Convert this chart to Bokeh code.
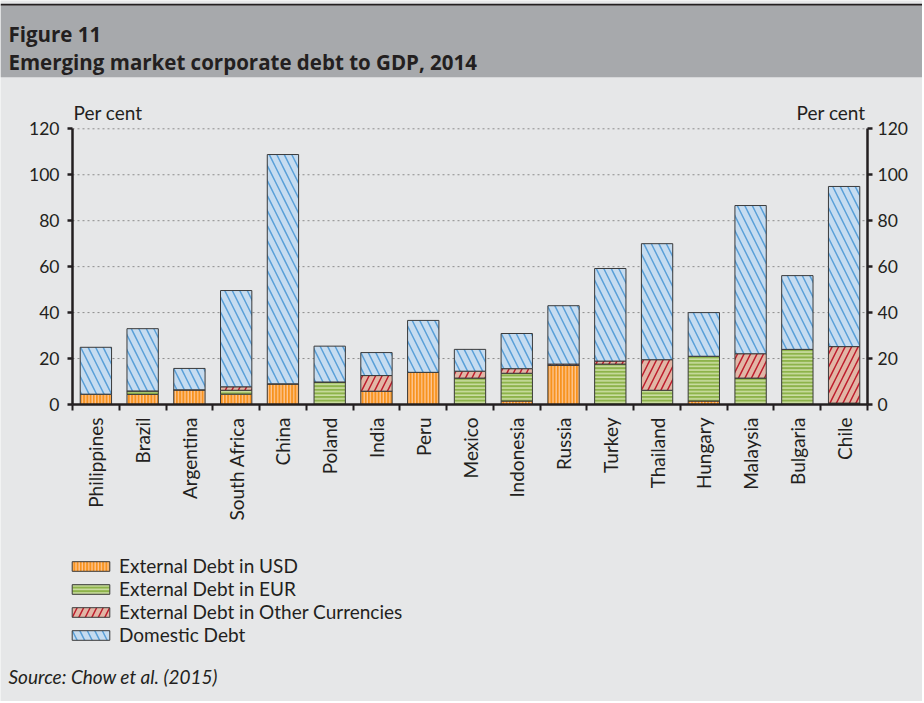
import numpy as np
from bokeh.plotting import figure
from bokeh.models import (ColumnDataSource, Range1d, LinearAxis, FixedTicker,
                          Legend, LegendItem, Label, BoxAnnotation)
from bokeh.embed import file_html
from bokeh.resources import INLINE

countries = ["Philippines", "Brazil", "Argentina", "South Africa", "China", "Poland",
             "India", "Peru", "Mexico", "Indonesia", "Russia", "Turkey", "Thailand",
             "Hungary", "Malaysia", "Bulgaria", "Chile"]
ext_usd = [4.5, 4.4, 6.4, 4.5, 9.0, 0.0, 5.8, 14.0, 0.0, 1.5, 17.0, 0.0, 0.0, 1.5, 0.0, 0.0, 0.0]
ext_eur = [0.0, 1.5, 0.0, 1.7, 0.0, 9.8, 0.0, 0.0, 11.5, 12.1, 0.0, 17.6, 6.2, 19.5, 11.5, 24.0, 0.6]
ext_other = [0.0, 0.0, 0.0, 1.5, 0.0, 0.0, 6.8, 0.0, 3.0, 2.0, 0.6, 1.3, 13.3, 0.0, 10.6, 0.0, 24.6]
domestic = [20.4, 27.1, 9.3, 41.9, 99.8, 15.6, 10.0, 22.6, 9.5, 15.3, 25.4, 40.3, 50.5, 19.0, 64.5, 32.1, 69.7]
y_ticks = [0, 20, 40, 60, 80, 100, 120]
y_max = 120

series_labels = ["External Debt in USD", "External Debt in EUR",
                 "External Debt in Other Currencies", "Domestic Debt"]

# ---- layout (page pixels) ----
W, H = 922, 701
AX_L, AX_R = 72, 867        # left / right axis position
AX_B, AX_T = 404, 128.3     # y=0 / y=120 position

FONT = "Lato"
TFONT = "Open Sans"
FS = "19px"
TXT = "#231f20"
BG = "#e6e7e8"

fills = ["#f7931e", "#8db34a", "#e2b6a6", "#c6dcf0"]
hatches = ["vertical_line", "horizontal_line", "right_diagonal_line", "left_diagonal_line"]
hcolors = ["#fdc898", "#d4e4b0", "#be1e2d", "#5aa0d8"]
hscales = [3.2, 3.6, 13, 15]
hweights = [1.3, 1.4, 1.5, 1.5]

n = len(countries)
ux = n / (AX_R - AX_L)           # data units per pixel (x)
uy = y_max / (AX_B - AX_T)       # data units per pixel (y)
xr = Range1d(-AX_L * ux, n + (W - AX_R) * ux)
yr = Range1d(-(H - AX_B) * uy, y_max + AX_T * uy)

p = figure(frame_width=W, frame_height=H, x_range=xr, y_range=yr,
           output_backend="svg", toolbar_location=None,
           min_border_left=0, min_border_right=0, min_border_top=0, min_border_bottom=0)
p.title.visible = False
p.extra_x_ranges = {"px": Range1d(0, W)}
p.extra_y_ranges = {"py": Range1d(H, 0)}
p.background_fill_color = BG
p.border_fill_color = BG
p.outline_line_color = None
p.grid.visible = False

# header band
p.add_layout(BoxAnnotation(top=3.3, bottom=5.3, y_range_name="py", fill_color="#231f20",
                           fill_alpha=1, line_color=None))
p.add_layout(BoxAnnotation(top=5.3, bottom=76.7, y_range_name="py", fill_color="#a7a9ac",
                           fill_alpha=1, line_color=None))
for txt, yb in (("Figure 11", 33), ("Emerging market corporate debt to GDP, 2014", 61.7)):
    p.add_layout(Label(x=8, y=yb, x_range_name="px", y_range_name="py", text=txt,
                       text_font=TFONT, text_font_style="bold", text_font_size="20.5px",
                       text_color=TXT, text_baseline="alphabetic"))

# unit labels
p.add_layout(Label(x=AX_L + 1, y=112.3, x_range_name="px", y_range_name="py", text="Per cent",
                   text_font=FONT, text_font_size=FS, text_color=TXT, text_baseline="middle"))
p.add_layout(Label(x=AX_R - 2, y=112.3, x_range_name="px", y_range_name="py", text="Per cent",
                   text_font=FONT, text_font_size=FS, text_color=TXT, text_baseline="middle",
                   text_align="right"))

# grid lines (dotted) between the two axes
gy = y_ticks[1:]
p.segment(x0=[0] * len(gy), x1=[n] * len(gy), y0=gy, y1=gy,
          line_color="#8c8c8c", line_width=1, line_dash="2 3")

# bars
centers = [i + 0.5 for i in range(n)]
src = ColumnDataSource(dict(x=centers, usd=ext_usd, eur=ext_eur, oth=ext_other, dom=domestic))
rs = p.vbar_stack(["usd", "eur", "oth", "dom"], x="x", width=0.67, source=src,
                  fill_color=fills, hatch_pattern=hatches, hatch_color=hcolors,
                  hatch_scale=hscales, hatch_weight=hweights,
                  line_color="#3a3a3a", line_width=1)

# axes (drawn at fixed locations inside the frame)
xa = p.xaxis[0]
xa.fixed_location = 0
xa.bounds = (0, n)
xa.ticker = FixedTicker(ticks=centers, minor_ticks=list(range(n + 1)))
xa.major_label_overrides = {c: name for c, name in zip(centers, countries)}
xa.major_label_orientation = np.pi / 2
xa.major_tick_line_color = None
xa.minor_tick_out = 6
xa.minor_tick_in = 0
xa.minor_tick_line_width = 2
xa.minor_tick_line_color = TXT
xa.axis_line_width = 2.5
xa.axis_line_color = TXT
xa.major_label_standoff = 7
xa.major_label_text_font = FONT
xa.major_label_text_font_size = FS
xa.major_label_text_color = TXT

ya = p.yaxis[0]
ya.fixed_location = 0
right = LinearAxis(fixed_location=n)
p.add_layout(right, "right")
for ax, so in ((ya, 8), (right, 5)):
    ax.bounds = (0, y_max)
    ax.ticker = FixedTicker(ticks=y_ticks)
    ax.axis_line_width = 2.5
    ax.axis_line_color = TXT
    ax.major_tick_out = 5
    ax.major_tick_in = 0
    ax.major_tick_line_width = 2.5
    ax.major_tick_line_color = TXT
    ax.minor_tick_line_color = None
    ax.major_label_standoff = so
    ax.major_label_text_font = FONT
    ax.major_label_text_font_size = "17.5px"
    ax.major_label_text_color = TXT

# legend
legend = Legend(items=[LegendItem(label=lab, renderers=[r]) for lab, r in zip(series_labels, rs)],
                location=(67, H - 646), orientation="vertical",
                glyph_width=47, glyph_height=12, label_standoff=5, label_height=22,
                spacing=0, padding=0, margin=0,
                background_fill_alpha=0, border_line_color=None,
                label_text_font=FONT, label_text_font_size=FS, label_text_color=TXT)
p.add_layout(legend, "center")

# source
p.add_layout(Label(x=8, y=676, x_range_name="px", y_range_name="py",
                   text="Source: Chow et al. (2015)", text_font=FONT,
                   text_font_style="italic", text_font_size=FS, text_color=TXT,
                   text_baseline="middle"))

open("out.html", "w").write(file_html(p, INLINE))
